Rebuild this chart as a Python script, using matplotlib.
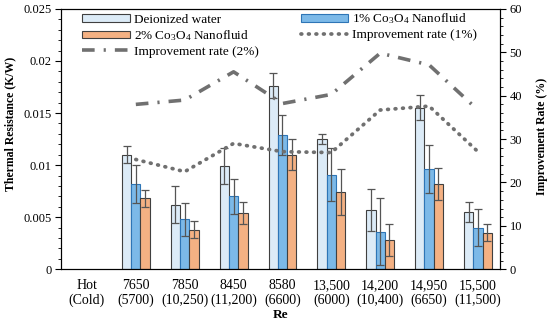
import numpy as np
import matplotlib.pyplot as plt
from matplotlib.ticker import MultipleLocator, FuncFormatter

plt.rcParams['font.family'] = ['Liberation Serif', 'DejaVu Serif']
plt.rcParams['font.size'] = 10
plt.rcParams['mathtext.fontset'] = 'custom'
plt.rcParams['mathtext.rm'] = 'Liberation Serif'
plt.rcParams['mathtext.default'] = 'regular'

labels = ["Hot\n(Cold)", "7650\n(5700)", "7850\n(10,250)", "8450\n(11,200)", "8580\n(6600)",
          "13,500\n(6000)", "14,200\n(10,400)", "14,950\n(6650)", "15,500\n(11,500)"]

# thermal resistance (K/W), no bars for the first category
di = [np.nan, 0.0110, 0.0062, 0.0099, 0.0176, 0.0125, 0.0057, 0.0155, 0.0055]
di_err = [0, 0.0008, 0.0018, 0.0017, 0.0012, 0.0005, 0.0020, 0.0012, 0.0010]
nf1 = [np.nan, 0.0082, 0.0048, 0.0070, 0.0129, 0.0091, 0.0036, 0.0096, 0.0040]
nf1_err = [0, 0.0018, 0.0016, 0.0017, 0.0019, 0.0025, 0.0032, 0.0023, 0.0018]
nf2 = [np.nan, 0.0068, 0.0038, 0.0054, 0.0110, 0.0074, 0.0028, 0.0082, 0.0035]
nf2_err = [0, 0.0008, 0.0008, 0.0011, 0.0015, 0.0022, 0.0015, 0.0015, 0.0008]

# improvement rate (%)
imp1 = [np.nan, 25.3, 22.5, 29.0, 27.1, 26.9, 36.7, 37.6, 27.1]
imp2 = [np.nan, 38.0, 39.0, 45.5, 38.2, 40.3, 49.8, 47.1, 36.7]

x = np.arange(len(labels))
w = 0.19

fig = plt.figure(figsize=(5.5, 3.3), dpi=100)
ax = fig.add_axes([0.111, 0.184, 0.798, 0.789])
ax2 = ax.twinx()

ekw = dict(ecolor='#555555', elinewidth=0.9, capsize=3, capthick=0.9)
b1 = ax.bar(x - w, di, w, yerr=di_err, color='#DCEBF7', edgecolor='#404040', linewidth=0.8,
            error_kw=ekw, label='Deionized water')
b2 = ax.bar(x, nf1, w, yerr=nf1_err, color='#7CB9E8', edgecolor='#2E75B6', linewidth=0.8,
            error_kw=ekw, label='1% Co$_3$O$_4$ Nanofluid')
b3 = ax.bar(x + w, nf2, w, yerr=nf2_err, color='#F4B183', edgecolor='#404040', linewidth=0.8,
            error_kw=ekw, label='2% Co$_3$O$_4$ Nanofluid')

l1, = ax2.plot(x, imp1, color='#707070', lw=2.7, linestyle=(0, (0.2, 1.8)),
               dash_capstyle='round', label='Improvement rate (1%)')
l2, = ax2.plot(x, imp2, color='#707070', lw=2.6, linestyle=(0, (3.5, 2.5, 0.6, 2.5)),
               label='Improvement rate (2%)')

ax.set_xlim(-0.53, 8.45)
ax.set_ylim(0, 0.025)
ax2.set_ylim(0, 60)
ax.set_xticks(x)
ax.set_xticklabels(labels, linespacing=1.1)
ax.tick_params(axis='x', length=0, pad=7)
ax.yaxis.set_major_locator(MultipleLocator(0.005))
ax.yaxis.set_minor_locator(MultipleLocator(0.001))
ax.yaxis.set_major_formatter(FuncFormatter(lambda v, p: '%g' % round(v, 4)))
ax2.yaxis.set_major_locator(MultipleLocator(10))
ax2.yaxis.set_minor_locator(MultipleLocator(2))
for a in (ax, ax2):
    a.tick_params(axis='y', which='major', length=4, width=0.8, direction='out', pad=3,
                  labelsize=9)
    a.tick_params(axis='y', which='minor', length=2.5, width=0.6, direction='out')

ax.set_xlabel('Re', fontweight='bold', fontsize=9.5, labelpad=2)
ax.set_ylabel('Thermal Resistance (K/W)', fontweight='bold', fontsize=8.5)
ax.yaxis.set_label_coords(-0.103, 0.56)
ax2.set_ylabel('Improvement Rate (%)', fontweight='bold', fontsize=8.5)
ax2.yaxis.set_label_coords(1.083, 0.51)

handles = [b1, b3, l2, b2, l1]
ax.legend(handles, [h.get_label() for h in handles], ncol=2, loc='upper left',
          bbox_to_anchor=(0.03, 1.02), frameon=False, fontsize=9.5,
          handlelength=3.6, handleheight=0.5, labelspacing=0.2,
          columnspacing=3.2, handletextpad=0.3, borderaxespad=0.2)

fig.savefig('out.png', dpi=100)
